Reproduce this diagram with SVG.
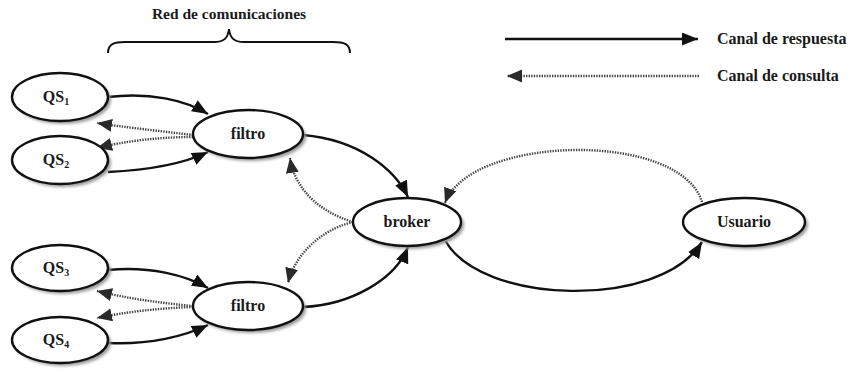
<svg xmlns="http://www.w3.org/2000/svg" width="852" height="372" viewBox="0 0 852 372">
  <defs>
    <filter id="shadow" x="-20%" y="-30%" width="150%" height="170%">
      <feGaussianBlur stdDeviation="1.5"/>
    </filter>
    <marker id="arrSolid" markerUnits="userSpaceOnUse" markerWidth="18" markerHeight="14" refX="16" refY="6.5" orient="auto">
      <path d="M0,0 L16,6.5 L0,13 Z" fill="#111"/>
    </marker>
    <marker id="arrDot" markerUnits="userSpaceOnUse" markerWidth="18" markerHeight="14" refX="15" refY="6.5" orient="auto">
      <path d="M0,0 L15,6.5 L0,13 Z" fill="#2a2a2a"/>
    </marker>
  </defs>
  <style>
    .node ellipse.body { fill: #fff; stroke: #111; stroke-width: 2.4; }
    .node ellipse.shade { fill: #9a9a9a; filter: url(#shadow); }
    text { font-family: "Liberation Serif", "Times New Roman", "DejaVu Serif", serif; font-weight: bold; fill: #1a1a1a; }
    .lbl { font-size: 16px; text-anchor: middle; }
    .head { font-size: 15.5px; text-anchor: middle; }
    .leg { font-size: 16px; }
    .sub { font-size: 10px; }
    .solid { fill: none; stroke: #111; stroke-width: 2.4; marker-end: url(#arrSolid); }
    .dot { fill: none; stroke: #444; stroke-width: 2.4; stroke-dasharray: 1.4 1.2; marker-end: url(#arrDot); }
  </style>
  <rect width="852" height="372" fill="#fff"/>

  <!-- heading and brace -->
  <text x="229" y="19" class="head">Red de comunicaciones</text>
  <path d="M108,53 C108,44 114,42 125,42 L214,42 C224,42 228,38 229,29 C230,38 234,42 244,42 L333,42 C344,42 350,44 350,53" fill="none" stroke="#111" stroke-width="2"/>

  <!-- legend -->
  <g id="legend">
    <line x1="505" y1="39" x2="698" y2="39" class="solid"/>
    <text x="717" y="44" class="leg">Canal de respuesta</text>
    <line x1="699" y1="76" x2="507" y2="76" class="dot"/>
    <text x="717" y="81" class="leg">Canal de consulta</text>
  </g>

  <!-- connectors -->
  <g id="connectors">
    <path class="solid" d="M108,97 C150,92 185,100 208,114"/>
    <path class="solid" d="M108,172 C150,170 185,163 208,152"/>
    <path class="dot" d="M193,135 C160,131 122,127 97,123"/>
    <path class="dot" d="M193,137 C160,137 125,141 97,148"/>
    <path class="solid" d="M303,135 C360,140 395,170 408,197"/>
    <path class="dot" d="M353,222 C320,212 295,190 290,158"/>
    <path class="dot" d="M353,222 C320,230 295,255 288,283"/>
    <path class="solid" d="M303,307 C350,305 395,280 408,247"/>
    <path class="solid" d="M108,270 C150,266 185,275 208,288"/>
    <path class="solid" d="M108,343 C150,345 185,336 208,325"/>
    <path class="dot" d="M193,306 C160,303 125,298 97,291"/>
    <path class="dot" d="M193,307 C160,308 125,312 97,318"/>
    <path class="solid" d="M445,240 C480,305 660,310 702,242"/>
    <path class="dot" d="M702,202 C680,130 470,135 445,203"/>
  </g>

  <!-- nodes -->
  <g id="qs1" class="node">
    <ellipse class="shade" cx="63" cy="100" rx="48" ry="24"/>
    <ellipse class="body" cx="60" cy="97" rx="48" ry="24"/>
    <text x="56" y="102" class="lbl">QS<tspan class="sub" dy="3">1</tspan></text>
  </g>
  <g id="qs2" class="node">
    <ellipse class="shade" cx="63" cy="163" rx="48" ry="24"/>
    <ellipse class="body" cx="60" cy="160" rx="48" ry="24"/>
    <text x="56" y="165" class="lbl">QS<tspan class="sub" dy="3">2</tspan></text>
  </g>
  <g id="qs3" class="node">
    <ellipse class="shade" cx="63" cy="271" rx="48" ry="23"/>
    <ellipse class="body" cx="60" cy="268" rx="48" ry="23"/>
    <text x="56" y="273" class="lbl">QS<tspan class="sub" dy="3">3</tspan></text>
  </g>
  <g id="qs4" class="node">
    <ellipse class="shade" cx="63" cy="343" rx="48" ry="23"/>
    <ellipse class="body" cx="60" cy="340" rx="48" ry="23"/>
    <text x="56" y="345" class="lbl">QS<tspan class="sub" dy="3">4</tspan></text>
  </g>
  <g id="filtro1" class="node">
    <ellipse class="shade" cx="251" cy="137" rx="55" ry="24"/>
    <ellipse class="body" cx="248" cy="134" rx="55" ry="24"/>
    <text x="248" y="139" class="lbl">filtro</text>
  </g>
  <g id="filtro2" class="node">
    <ellipse class="shade" cx="251" cy="309" rx="55" ry="24"/>
    <ellipse class="body" cx="248" cy="306" rx="55" ry="24"/>
    <text x="248" y="311" class="lbl">filtro</text>
  </g>
  <g id="broker" class="node">
    <ellipse class="shade" cx="410" cy="225" rx="54" ry="24"/>
    <ellipse class="body" cx="407" cy="222" rx="54" ry="24"/>
    <text x="407" y="227" class="lbl">broker</text>
  </g>
  <g id="usuario" class="node">
    <ellipse class="shade" cx="747" cy="225" rx="61" ry="24"/>
    <ellipse class="body" cx="744" cy="222" rx="61" ry="24"/>
    <text x="744" y="227" class="lbl">Usuario</text>
  </g>
</svg>
